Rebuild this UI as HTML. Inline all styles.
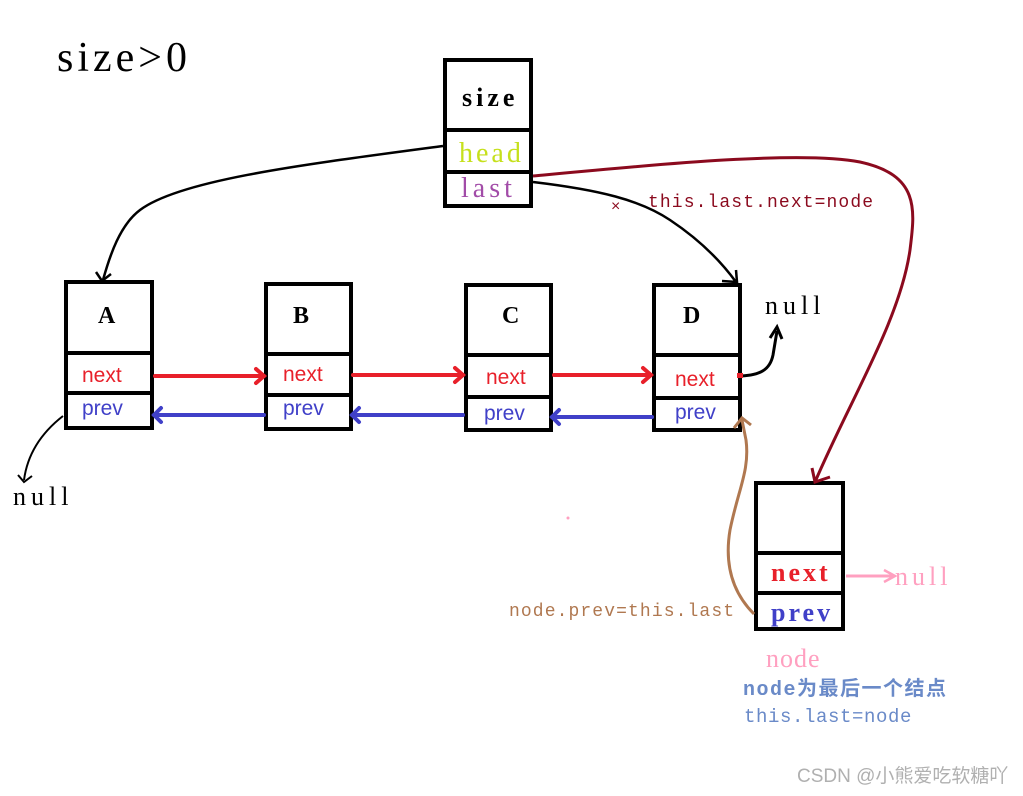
<!DOCTYPE html>
<html><head><meta charset="utf-8"><style>
html,body{margin:0;padding:0;background:#fff;}
svg{display:block;}
.s{font-family:"Liberation Serif","Noto Serif CJK SC",serif;}
.a{font-family:"Liberation Sans",sans-serif;}
.m{font-family:"Liberation Mono","Noto Sans CJK SC",monospace;}
</style></head><body>
<svg width="1023" height="796" viewBox="0 0 1023 796" xmlns="http://www.w3.org/2000/svg">
<rect width="1023" height="796" fill="#fff"/>
<text x="57" y="71" class="s" font-size="42" fill="#000" letter-spacing="4">size&gt;0</text>

<g fill="none" stroke="#000" stroke-width="4">
<rect x="445" y="60" width="86" height="146"/>
<line x1="445" y1="130" x2="531" y2="130"/><line x1="445" y1="172" x2="531" y2="172"/>
<rect x="66" y="282" width="86" height="146"/>
<line x1="66" y1="353" x2="152" y2="353"/><line x1="66" y1="393" x2="152" y2="393"/>
<rect x="266" y="284" width="85" height="145"/>
<line x1="266" y1="354" x2="351" y2="354"/><line x1="266" y1="395" x2="351" y2="395"/>
<rect x="466" y="285" width="85" height="145"/>
<line x1="466" y1="355" x2="551" y2="355"/><line x1="466" y1="397" x2="551" y2="397"/>
<rect x="654" y="285" width="86" height="145"/>
<line x1="654" y1="355" x2="740" y2="355"/><line x1="654" y1="398" x2="740" y2="398"/>
<rect x="756" y="483" width="87" height="146"/>
<line x1="756" y1="553" x2="843" y2="553"/><line x1="756" y1="593" x2="843" y2="593"/>
</g>

<text x="462" y="106" class="s" font-size="26" font-weight="bold" letter-spacing="4">size</text>
<text x="459" y="162" class="s" font-size="28" fill="#c6e01c" letter-spacing="3">head</text>
<text x="461" y="197" class="s" font-size="28" fill="#a24ca8" letter-spacing="4">last</text>
<text x="98" y="323" class="s" font-size="24" font-weight="bold">A</text>
<text x="293" y="323" class="s" font-size="24" font-weight="bold">B</text>
<text x="502" y="323" class="s" font-size="24" font-weight="bold">C</text>
<text x="683" y="323" class="s" font-size="24" font-weight="bold">D</text>
<g class="a" font-size="21">
<text x="82" y="382" fill="#e8202a">next</text><text x="82" y="415" fill="#4040c8">prev</text>
<text x="283" y="381" fill="#e8202a">next</text><text x="283" y="415" fill="#4040c8">prev</text>
<text x="486" y="384" fill="#e8202a">next</text><text x="484" y="420" fill="#4040c8">prev</text>
<text x="675" y="386" fill="#e8202a">next</text><text x="675" y="419" fill="#4040c8">prev</text>
</g>
<text x="771" y="581" class="s" font-size="26" font-weight="bold" fill="#e8202a" letter-spacing="3">next</text>
<text x="771" y="621" class="s" font-size="26" font-weight="bold" fill="#4040c8" letter-spacing="3">prev</text>

<g stroke="#e8202a" stroke-width="4" fill="none" stroke-linecap="round">
<line x1="155" y1="376" x2="264" y2="376"/><path d="M256 369 L264 376 L256 383"/>
<line x1="353" y1="375" x2="463" y2="375"/><path d="M455 368 L463 375 L455 382"/>
<line x1="554" y1="375" x2="651" y2="375"/><path d="M643 368 L651 375 L643 382"/>
</g>
<g stroke="#4040c8" stroke-width="4" fill="none" stroke-linecap="round">
<line x1="264" y1="415" x2="154" y2="415"/><path d="M161 408 L154 415 L161 422"/>
<line x1="463" y1="415" x2="352" y2="415"/><path d="M359 408 L352 415 L359 422"/>
<line x1="652" y1="417" x2="552" y2="417"/><path d="M559 410 L552 417 L559 424"/>
</g>

<path d="M443 146 C300 165 180 180 140 210 C120 225 110 255 103 280" stroke="#000" stroke-width="2.5" fill="none"/>
<path d="M96 272 L102 281 L111 274" stroke="#000" stroke-width="2.5" fill="none"/>
<path d="M533 182 C600 190 640 200 670 220 C700 240 720 260 736 282" stroke="#000" stroke-width="2.5" fill="none"/>
<path d="M722 281 L737 282 L736 270" stroke="#000" stroke-width="2.5" fill="none"/>
<text x="611" y="211" class="a" font-size="16" fill="#8b0a1e">×</text>
<text x="648" y="207" class="m" font-size="18" fill="#8b0a1e" letter-spacing="1.1">this.last.next=node</text>
<path d="M533 176 C650 165 800 150 860 162 C920 175 915 210 910 250 C900 320 850 400 815 482" stroke="#8b0a1e" stroke-width="3" fill="none"/>
<path d="M812 468 L815 482 L830 477" stroke="#8b0a1e" stroke-width="3" fill="none"/>
<path d="M741 376 C760 375 770 370 773 355 L777 331" stroke="#000" stroke-width="3" fill="none"/>
<path d="M770 338 L777 327 L782 339" stroke="#000" stroke-width="3" fill="none"/>
<rect x="737" y="373" width="6" height="5" fill="#e8202a"/>
<text x="765" y="314" class="s" font-size="26" letter-spacing="5">null</text>
<path d="M63 416 C45 430 28 450 24 480" stroke="#000" stroke-width="2" fill="none"/>
<path d="M18 475 L24 482 L32 476" stroke="#000" stroke-width="2" fill="none"/>
<text x="13" y="505" class="s" font-size="26" letter-spacing="5">null</text>
<path d="M754 614 C730 590 725 560 730 530 C738 490 750 470 746 440 L742 420" stroke="#b07850" stroke-width="3" fill="none"/>
<path d="M734 428 L742 418 L751 425" stroke="#b07850" stroke-width="3" fill="none"/>
<text x="509" y="616" class="m" font-size="18" fill="#b07850" letter-spacing="1.1">node.prev=this.last</text>
<line x1="846" y1="576" x2="895" y2="576" stroke="#ffa0c0" stroke-width="3"/>
<path d="M884 570 L895 576 L884 582" stroke="#ffa0c0" stroke-width="2.5" fill="none"/>
<text x="895" y="585" class="s" font-size="26" fill="#ffa0c0" letter-spacing="4">null</text>
<circle cx="568" cy="518" r="1.5" fill="#ffa0c0"/>
<text x="766" y="667" class="s" font-size="26" fill="#ffa0c0" letter-spacing="1">node</text>
<text x="743" y="695" class="m" font-size="20" fill="#6a8ac8" font-weight="bold" letter-spacing="1.5">node为最后一个结点</text>
<text x="744" y="722" class="m" font-size="19" fill="#6a8ac8" letter-spacing="0.6">this.last=node</text>
<text x="797" y="782" font-size="19" fill="#b0b0b0" font-family="Liberation Sans, Noto Sans CJK SC, sans-serif">CSDN @小熊爱吃软糖吖</text>
</svg>
</body></html>
